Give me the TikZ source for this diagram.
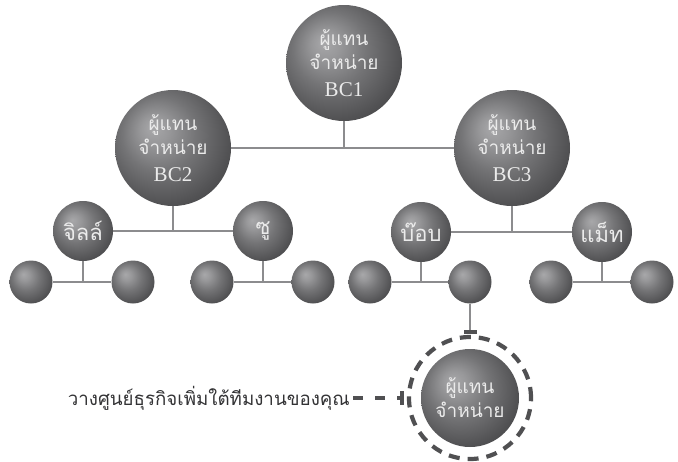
\documentclass[tikz,border=0pt]{standalone}
\usepackage{fontspec}
\setmainfont{Liberation Serif}
\newfontfamily\thaifont[Script=Thai]{Loma}
\usetikzlibrary{arrows.meta,backgrounds}
\definecolor{lnc}{HTML}{8C8C8E}
\definecolor{ringc}{HTML}{505052}
\definecolor{txtc}{HTML}{333335}
\definecolor{sA}{HTML}{A8A8AA}
\definecolor{sB}{HTML}{98989A}
\definecolor{sC}{HTML}{747476}
\definecolor{sD}{HTML}{525254}
\definecolor{sE}{HTML}{3A3A3C}
\pgfdeclareradialshading{sphere}{\pgfqpoint{-9bp}{9bp}}{color(0bp)=(sA); color(6bp)=(sB); color(16bp)=(sC); color(28bp)=(sD); color(38bp)=(sE); color(50bp)=(sE)}
\newcommand{\bclabel}[1]{{\rmfamily\fontsize{21}{23}\selectfont #1}}
\tikzset{
  ball/.style={circle, inner sep=0pt, shading=sphere, text=white!92!black, align=center},
  bigball/.style={ball, minimum size=116pt, font=\thaifont\fontsize{19}{23}\selectfont},
  midball/.style={ball, minimum size=60pt, font=\thaifont\fontsize{22}{24}\selectfont},
  smallball/.style={ball, minimum size=43pt},
  conn/.style={draw=lnc, line width=2.6pt},
}
\begin{document}
\begin{tikzpicture}[x=1pt,y=-1pt]
\useasboundingbox (0,0) rectangle (678,461);
% big spheres
\node[bigball] (bc1) at (344,63) {ผู้แทน\\[1pt]จำหน่าย\\[4pt]\bclabel{BC1}};
\node[bigball] (bc2) at (173,148) {ผู้แทน\\[1pt]จำหน่าย\\[4pt]\bclabel{BC2}};
\node[bigball] (bc3) at (512,148) {ผู้แทน\\[1pt]จำหน่าย\\[4pt]\bclabel{BC3}};
% middle spheres
\node[midball] (jill) at (83,231) {จิลล์};
\node[midball] (su) at (263,231) {ซู};
\node[midball] (bob) at (421,232) {บ๊อบ};
\node[midball] (matt) at (602,232) {แม็ท};
% small spheres
\node[smallball] (j1) at (31,282) {};
\node[smallball] (j2) at (133,282) {};
\node[smallball] (s1) at (212,282) {};
\node[smallball] (s2) at (313,282) {};
\node[smallball] (b1) at (370,282) {};
\node[smallball] (b2) at (470,282) {};
\node[smallball] (m1) at (551,282) {};
\node[smallball] (m2) at (652,282) {};
% new distributor
\node[ball, minimum size=98pt, font=\thaifont\fontsize{19}{23}\selectfont] (new) at (470,398) {ผู้แทน\\[1pt]จำหน่าย};
\node[circle, inner sep=0pt, minimum size=122pt, draw=ringc, line width=4.2pt, dash pattern=on 11pt off 8pt] (ring) at (470,398) {};
\node[anchor=east, inner sep=0pt, text=txtc, font=\thaifont\fontsize{18.7}{20}\selectfont] (note) at (350,398) {วางศูนย์ธุรกิจเพิ่มใต้ทีมงานของคุณ};
\begin{scope}[on background layer]
\draw[conn] (bc2) -- (bc3);
\draw[conn] (bc1) -- (bc1 |- bc2);
\draw[conn] (jill) -- (su);
\draw[conn] (bc2) -- (bc2 |- jill);
\draw[conn] (bob) -- (matt);
\draw[conn] (bc3) -- (bc3 |- bob);
\draw[conn] (j1) -- (j2);
\draw[conn] (jill) -- (jill |- j1);
\draw[conn] (s1) -- (s2);
\draw[conn] (su) -- (su |- s1);
\draw[conn] (b1) -- (b2);
\draw[conn] (bob) -- (bob |- b1);
\draw[conn] (m1) -- (m2);
\draw[conn] (matt) -- (matt |- m1);
\draw[conn, -{Bar[width=13pt, line width=3.5pt, color=ringc]}, shorten >=1pt] (b2) -- (ring.north);
\draw[draw=ringc, line width=3.5pt, dash pattern=on 10pt off 12pt, -{Bar[width=14pt, line width=3.5pt]}] ([xshift=3pt]note.east) -- ([xshift=-3pt]ring.west);
\end{scope}
\end{tikzpicture}
\end{document}
